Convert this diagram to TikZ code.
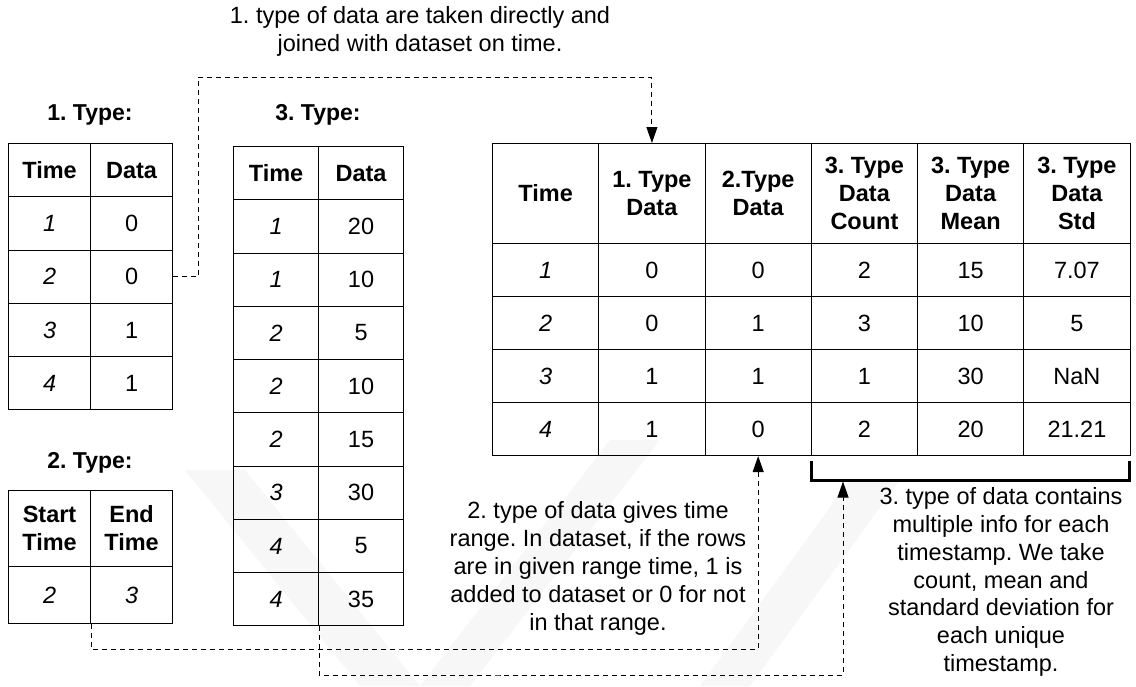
\documentclass[tikz,border=0pt]{standalone}
\usepackage{fontspec}
\setmainfont{Liberation Sans}
\usetikzlibrary{arrows.meta}
\frenchspacing
\begin{document}
\begin{tikzpicture}[x=1pt,y=-1pt,
  cell/.style={draw, line width=1.1pt, inner sep=0pt, anchor=north west, align=center,
    font=\fontsize{23.5}{28}\selectfont},
  hcell/.style={cell, font=\fontsize{23.5}{28}\selectfont\bfseries},
  title/.style={font=\fontsize{23}{26}\selectfont\bfseries},
  note/.style={align=center, font=\fontsize{23.5}{28}\selectfont},
  conn/.style={line width=1pt, dash pattern=on 5pt off 4pt},
  arr/.style={conn, -{Triangle[length=16pt,width=11pt]}},
  bracket/.style={line width=3pt},
  wm/.style={fill=black!3, draw=none}
]
\useasboundingbox (0,0) rectangle (1136,686);

% faint watermark
\fill[wm] (185,470) -- (245,470) -- (420,686) -- (360,686) -- cycle;
\fill[wm] (420,686) -- (470,686) -- (660,440) -- (610,440) -- cycle;
\fill[wm] (700,686) -- (750,686) -- (900,480) -- (850,480) -- cycle;

% ---------- Table 1 ----------
\node[title] (t1title) at (90,115) {1. Type:};
\node[hcell, minimum width=82pt, minimum height=53.25pt] (ta0a) at (8,143) {Time};
\node[hcell, minimum width=82pt, minimum height=53.25pt] (ta0b) at (90,143) {Data};
\foreach \t/\d [count=\i] in {1/0,2/0,3/1,4/1}{
  \node[cell, minimum width=82pt, minimum height=53.25pt] (ta\i a) at (8,{143+53.25*\i}) {\itshape \t};
  \node[cell, minimum width=82pt, minimum height=53.25pt] (ta\i b) at (90,{143+53.25*\i}) {\d};
}

% ---------- Table 2 ----------
\node[title] (t2title) at (90,463) {2. Type:};
\node[hcell, minimum width=82pt, minimum height=76pt] (tb0a) at (8,490) {Start\\Time};
\node[hcell, minimum width=82pt, minimum height=76pt] (tb0b) at (90,490) {End\\Time};
\node[cell, minimum width=82pt, minimum height=57pt] (tb1a) at (8,566) {\itshape 2};
\node[cell, minimum width=82pt, minimum height=57pt] (tb1b) at (90,566) {\itshape 3};

% ---------- Table 3 ----------
\node[title] (t3title) at (318,115) {3. Type:};
\node[hcell, minimum width=85pt, minimum height=53.25pt] (tc0a) at (233,146) {Time};
\node[hcell, minimum width=85pt, minimum height=53.25pt] (tc0b) at (318,146) {Data};
\foreach \t/\d [count=\i] in {1/20,1/10,2/5,2/10,2/15,3/30,4/5,4/35}{
  \node[cell, minimum width=85pt, minimum height=53.25pt] (tc\i a) at (233,{146+53.25*\i}) {\itshape \t};
  \node[cell, minimum width=85pt, minimum height=53.25pt] (tc\i b) at (318,{146+53.25*\i}) {\d};
}

% ---------- Main table ----------
\foreach \h [count=\k from 0] in {Time, {1. Type\\Data}, {2.Type\\Data}, {3. Type\\Data\\Count}, {3. Type\\Data\\Mean}, {3. Type\\Data\\Std}}{
  \node[hcell, minimum width=106.25pt, minimum height=100pt] (m0c\k) at ({492+106.25*\k},143) {\h};
}
\foreach \a/\b/\c/\d/\e/\f [count=\i] in {1/0/0/2/15/7.07, 2/0/1/3/10/5, 3/1/1/1/30/NaN, 4/1/0/2/20/21.21}{
  \node[cell, minimum width=106.25pt, minimum height=53pt] (m\i c0) at (492,{243+53*(\i-1)}) {\itshape \a};
  \node[cell, minimum width=106.25pt, minimum height=53pt] (m\i c1) at (598.25,{243+53*(\i-1)}) {\b};
  \node[cell, minimum width=106.25pt, minimum height=53pt] (m\i c2) at (704.5,{243+53*(\i-1)}) {\c};
  \node[cell, minimum width=106.25pt, minimum height=53pt] (m\i c3) at (810.75,{243+53*(\i-1)}) {\d};
  \node[cell, minimum width=106.25pt, minimum height=53pt] (m\i c4) at (917,{243+53*(\i-1)}) {\e};
  \node[cell, minimum width=106.25pt, minimum height=53pt] (m\i c5) at (1023.25,{243+53*(\i-1)}) {\f};
}

% bracket under the 3. Type columns
\draw[bracket] (811,461) -- (811,480) -- (1129.5,480) -- (1129.5,461);
\coordinate (brk) at (843,481.5);

% ---------- Notes ----------
\node[note] (n1) at (420,31) {1. type of data are taken directly and\\joined with dataset on time.};
\node[note] (n2) at (598,568) {2. type of data gives time\\range. In dataset, if the rows\\are in given range time, 1 is\\added to dataset or 0 for not\\in that range.};
\node[note, font=\fontsize{23.5}{27.7}\selectfont] (n3) at (1001,582) {3. type of data contains\\multiple info for each\\timestamp. We take\\count, mean and\\standard deviation for\\each unique\\timestamp.};

% ---------- Connectors ----------
\coordinate (w1) at (198,77);
\coordinate (w2) at (400,649);
\coordinate (w3) at (500,675);
\draw[arr] (ta2b.east) -| (w1) -| (m0c1.north);
\draw[arr] (tb1a.south east) |- (w2) -| (m4c2.south);
\draw[arr] (tc8a.south east) |- (w3) -| (brk);
\end{tikzpicture}
\end{document}
